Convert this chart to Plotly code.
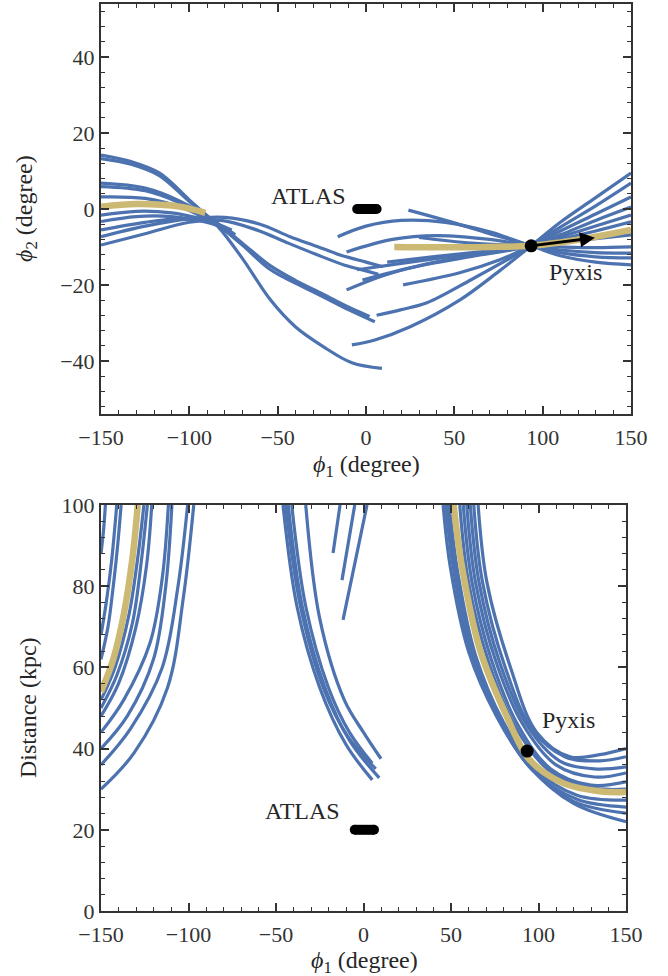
import plotly.graph_objects as go

# ---------------- data: top panel (phi1, phi2) ----------------
top_L1 = [(-150, 14.2), (-133, 12.5), (-117, 9.5), (-100, 2.4), (-84, -4.5), (-70, -13), (-54, -24), (-40, -31), (-24, -36.3), (-8, -40.5), (9, -42)]
top_L2 = [(-150, 13.3), (-133, 11.8), (-117, 8.8), (-100, 2), (-84, -4), (-70, -9.5), (-54, -16), (-40, -19.5), (-24, -23.2), (-10, -26.5), (5, -29.7)]
top_L3 = [(-150, 6.8), (-125, 5.5), (-105, 2), (-84, -3.8), (-70, -9), (-54, -15), (-40, -18.8), (-24, -22.5), (-10, -25.8), (2, -28.3)]
top_L4 = [(-150, 5.9), (-125, 4.8), (-105, 1.5), (-88, -3), (-77, -6.5)]
top_L5 = [(-150, 3.2), (-125, 2.8), (-105, 0.5), (-88, -3.2), (-77, -6)]
top_L6 = [(-150, -1.6), (-130, -0.6), (-110, -1), (-95, -2.4), (-84, -4), (-76, -5.5)]
top_L7 = [(-150, -3.3), (-130, -2), (-110, -2), (-95, -3), (-84, -4.4), (-75, -7)]
top_L8 = [(-150, -5.5), (-125, -3.5), (-105, -2.6), (-90, -3.2), (-80, -5), (-74, -6.8)]
top_M1a = [(-150, -7.3), (-125, -4.5), (-100, -2.6), (-80, -2.2), (-60, -4), (-43, -7.3), (-28, -9.8), (-14.7, -12.1), (0, -14), (9.6, -15.2)]
top_M1b = [(-150, -9.5), (-125, -6.5), (-100, -3.5), (-82, -3), (-62, -5.5), (-45, -8.8), (-28, -12), (-12, -14.8), (0, -16.3), (7, -17.2)]
top_R9 = [(-8, -35.8), (5, -34.5), (25, -31), (53, -24), (75, -16.5), (93.5, -9.7), (110, -3.5), (130, 3), (150, 9.5)]
top_R8 = [(6, -28), (20, -26.5), (34.5, -24.7), (60, -18.5), (93.5, -9.7), (110, -4.8), (130, 0.8), (150, 6.8)]
top_R7 = [(21, -20), (53, -16.8), (75, -13.5), (93.5, -9.7), (110, -5.8), (130, -1.3), (150, 3.2)]
top_R5 = [(-11, -21.3), (10, -17.5), (30, -15), (60, -12.5), (93.5, -9.7), (110, -6.8), (130, -3), (150, 0.5)]
top_R6 = [(-2, -18.7), (20, -16), (50, -13), (93.5, -9.7), (110, -7.4), (130, -4.5), (150, -1.6)]
top_R4 = [(12, -14), (40, -12.5), (70, -11), (93.5, -9.7), (110, -8), (130, -5.8), (150, -3.4)]
top_R10 = [(-5, -16), (25, -14), (60, -11.8), (93.5, -9.7), (110, -8.8), (130, -7.8), (150, -6.8)]
top_R3 = [(-11, -11.3), (15, -8), (40, -7), (70, -8), (93.5, -9.7), (110, -10.8), (130, -11.5), (150, -11.6)]
top_R1 = [(-16, -7.3), (0, -4.5), (20, -3), (45, -3.5), (70, -6), (93.5, -9.7), (110, -11.5), (130, -12.6), (150, -12.9)]
top_R2 = [(24, -0.3), (45, -3), (70, -6.5), (93.5, -9.7), (110, -12.3), (130, -14), (150, -14.7)]
top_R11 = [(30, -7.5), (60, -9), (93.5, -9.7), (110, -10), (130, -10.2), (150, -10)]
top_gold_left = [(-150, 0.6), (-130, 1.3), (-110, 0.9), (-100, 0.1), (-91, -1)]
top_gold_right = [(16, -10), (40, -10.1), (70, -10), (93.5, -9.7), (110, -8.8), (130, -7.3), (150, -5.5)]

# ---------------- data: bottom panel (phi1, distance) ----------------
bot_B1 = [(-150, 88), (-148.5, 94), (-147.5, 100)]
bot_B2 = [(-150, 68), (-147, 76), (-144, 86), (-141, 100)]
bot_B3 = [(-150, 62), (-146, 70), (-143, 80), (-140.5, 90), (-138.5, 100)]
bot_B4 = [(-150, 52), (-142, 60), (-134, 73), (-129, 87), (-125.5, 100)]
bot_B5 = [(-150, 50), (-141, 58), (-132, 71), (-127, 86), (-123.5, 100)]
bot_B6 = [(-150, 48), (-140, 56), (-130, 70), (-124, 85), (-121, 100)]
bot_B7 = [(-150, 44), (-137, 52), (-122, 66), (-115, 82), (-111.5, 100)]
bot_B8 = [(-150, 40), (-135, 48), (-120, 62), (-113, 80), (-109.5, 100)]
bot_B9 = [(-150, 36), (-133, 45), (-115, 60), (-106, 80), (-100.5, 100)]
bot_B10 = [(-150, 30), (-131, 39), (-112, 55), (-103, 77), (-97, 100)]
bot_C1 = [(-33, 100), (-25, 72), (-11, 52), (0, 44), (10, 37.5)]
bot_C2 = [(-41, 100), (-33, 75), (-20, 55), (-8, 44), (5, 36.4)]
bot_C3 = [(-43, 100), (-35, 75), (-22, 55), (-8, 42), (9, 32.8)]
bot_C4 = [(-46, 100), (-38, 75), (-25, 55), (-10, 41), (5, 32.3)]
bot_C5 = [(-44.5, 100), (-36, 75), (-23, 55), (-9, 43), (7, 35)]
bot_S1 = [(-13.4, 100), (-17.4, 88.2)]
bot_S2 = [(-5, 100), (-12.3, 81.5)]
bot_S3 = [(2, 100), (-11.7, 71.7)]
bot_E1 = [(65.5, 100), (70.5, 81), (84, 60), (99, 44), (118, 38), (135, 38.5), (150, 40)]
bot_E2 = [(63, 100), (68, 81), (81, 60), (96, 45), (115, 38), (135, 37), (150, 38)]
bot_E3 = [(61, 100), (66, 81), (78, 61), (93, 46), (112, 37), (132, 35), (150, 35.5)]
bot_E4 = [(59, 100), (64, 81), (76, 61), (91, 46), (110, 36), (132, 33), (150, 34)]
bot_E5 = [(57, 100), (62, 81), (73, 62), (88, 46), (107, 35), (130, 31), (150, 31.8)]
bot_E10 = [(55, 100), (60, 81), (71, 62), (86, 46), (105, 35), (128, 30.5), (150, 30)]
bot_E6 = [(49, 100), (54, 83), (64, 63), (80, 46.5), (98, 35), (122, 28.5), (150, 27.3)]
bot_E7 = [(48, 100), (53, 83), (63, 63), (79, 46), (97, 34.5), (122, 27.5), (150, 25.6)]
bot_E8 = [(47, 100), (51.5, 84), (61.5, 63.5), (77.5, 47), (96, 35), (120, 27), (150, 24.1)]
bot_E9 = [(45.5, 100), (49.5, 85), (60, 64), (76, 48), (95, 35.5), (120, 26.5), (150, 22)]
bot_gold_left = [(-150, 54), (-143, 62), (-137, 73), (-132, 87), (-129, 100)]
bot_gold_right = [(51.5, 100), (56.3, 84.7), (66.6, 64.3), (82, 47.8), (95, 37.2), (114, 31.5), (135, 29.5), (150, 29.3)]

# ---------------- objects ----------------
atlas_phi1 = [-5, 6]
atlas_phi2 = [0, 0]
atlas_dist = [20, 20]
pyxis_phi1 = [93.5]
pyxis_phi2 = [-9.7]
pyxis_dist = [39.4]
pyxis_pm_tip = (129.6, -7.6)

x_ticks = [-150, -100, -50, 0, 50, 100, 150]
top_y_ticks = [-40, -20, 0, 20, 40]
bot_y_ticks = [0, 20, 40, 60, 80, 100]

BLUE = "#4C72B0"
GOLD = "#CCB974"
FONT = "Liberation Serif"
AX = "#333333"

top_blue = [top_L1, top_L2, top_L3, top_L4, top_L5, top_L6, top_L7, top_L8, top_M1a, top_M1b,
            top_R9, top_R8, top_R7, top_R5, top_R6, top_R4, top_R10, top_R3, top_R1, top_R2, top_R11]
top_gold = [top_gold_left, top_gold_right]
bot_blue = [bot_B1, bot_B2, bot_B3, bot_B4, bot_B5, bot_B6, bot_B7, bot_B8, bot_B9, bot_B10,
            bot_C1, bot_C2, bot_C3, bot_C4, bot_C5, bot_S1, bot_S2, bot_S3,
            bot_E1, bot_E2, bot_E3, bot_E4, bot_E5, bot_E10, bot_E6, bot_E7, bot_E8, bot_E9]
bot_gold = [bot_gold_left, bot_gold_right]

fig = go.Figure()


def add_curves(curves, color, width, xa, ya):
    for c in curves:
        fig.add_trace(go.Scatter(x=[p[0] for p in c], y=[p[1] for p in c], mode="lines",
                                 line=dict(color=color, width=width, shape="spline", smoothing=1.0),
                                 xaxis=xa, yaxis=ya, hoverinfo="skip", showlegend=False))


add_curves(top_blue, BLUE, 3.2, "x", "y")
add_curves(top_gold, GOLD, 6.5, "x", "y")
add_curves(bot_blue, BLUE, 3.2, "x2", "y2")
add_curves(bot_gold, GOLD, 6.5, "x2", "y2")

for xa, ya, yy in [("x", "y", atlas_phi2), ("x2", "y2", atlas_dist)]:
    fig.add_trace(go.Scatter(x=atlas_phi1, y=yy, mode="lines+markers",
                             line=dict(color="black", width=10),
                             marker=dict(color="black", size=10),
                             xaxis=xa, yaxis=ya, hoverinfo="skip", showlegend=False))

fig.add_trace(go.Scatter(x=pyxis_phi1, y=pyxis_phi2, mode="markers",
                         marker=dict(color="black", size=13), xaxis="x", yaxis="y",
                         hoverinfo="skip", showlegend=False))
fig.add_trace(go.Scatter(x=pyxis_phi1, y=pyxis_dist, mode="markers",
                         marker=dict(color="black", size=13), xaxis="x2", yaxis="y2",
                         hoverinfo="skip", showlegend=False))

W, H = 668, 976


def px(x):
    return x / W


def py(y):
    return 1 - y / H


axis_common = dict(showline=True, linecolor=AX, linewidth=2, mirror="allticks",
                   ticks="inside", ticklen=8, tickwidth=1.5, tickcolor=AX,
                   showgrid=False, zeroline=False, automargin=False,
                   tickfont=dict(family=FONT, size=22, color=AX))

fig.update_layout(
    width=W, height=H, margin=dict(l=0, r=0, t=0, b=0, pad=0),
    paper_bgcolor="white", plot_bgcolor="white", showlegend=False,
    xaxis=dict(axis_common, domain=[px(101), px(631)], range=[-150, 150], anchor="y",
               tickvals=x_ticks, ticklabelstandoff=3,
               minor=dict(ticks="inside", ticklen=4, tickwidth=1, tickcolor=AX, dtick=10)),
    yaxis=dict(axis_common, domain=[py(414), py(4)], range=[-54, 54], anchor="x",
               tickvals=top_y_ticks, minor=dict(ticks="inside", ticklen=4, tickwidth=1, tickcolor=AX, tick0=0, dtick=4)),
    xaxis2=dict(axis_common, domain=[px(101), px(626)], range=[-150, 150], anchor="y2",
                tickvals=x_ticks, ticklabelstandoff=3,
                minor=dict(ticks="inside", ticklen=4, tickwidth=1, tickcolor=AX, dtick=10)),
    yaxis2=dict(axis_common, domain=[py(911), py(505)], range=[0, 100], anchor="x2",
                tickvals=bot_y_ticks, minor=dict(ticks="inside", ticklen=4, tickwidth=1, tickcolor=AX, tick0=0, dtick=4)),
)

tfont = dict(family=FONT, size=24, color="#262626")
ann = [
    dict(text="<i>ϕ</i><sub>1</sub> (degree)", x=px(366), y=py(466), xref="paper", yref="paper",
         showarrow=False, font=tfont, xanchor="center", yanchor="middle"),
    dict(text="<i>ϕ</i><sub>2</sub> (degree)", x=px(26), y=py(209), xref="paper", yref="paper",
         showarrow=False, font=tfont, xanchor="center", yanchor="middle", textangle=-90),
    dict(text="<i>ϕ</i><sub>1</sub> (degree)", x=px(364), y=py(962), xref="paper", yref="paper",
         showarrow=False, font=tfont, xanchor="center", yanchor="middle"),
    dict(text="Distance (kpc)", x=px(28), y=py(708), xref="paper", yref="paper",
         showarrow=False, font=tfont, xanchor="center", yanchor="middle", textangle=-90),
    dict(text="ATLAS", x=-32.8, y=3.4, xref="x", yref="y", showarrow=False, font=tfont,
         xanchor="center", yanchor="middle"),
    dict(text="Pyxis", x=118.3, y=-16.6, xref="x", yref="y", showarrow=False, font=tfont,
         xanchor="center", yanchor="middle"),
    dict(text="ATLAS", x=-34.6, y=24.6, xref="x2", yref="y2", showarrow=False, font=tfont,
         xanchor="center", yanchor="middle"),
    dict(text="Pyxis", x=117.4, y=47, xref="x2", yref="y2", showarrow=False, font=tfont,
         xanchor="center", yanchor="middle"),
    dict(x=pyxis_pm_tip[0], y=pyxis_pm_tip[1], ax=pyxis_phi1[0], ay=pyxis_phi2[0],
         xref="x", yref="y", axref="x", ayref="y", showarrow=True, text="",
         arrowhead=2, arrowsize=1.0, arrowwidth=3, arrowcolor="black"),
]
fig.update_layout(annotations=ann)

fig.write_html("out.html")
